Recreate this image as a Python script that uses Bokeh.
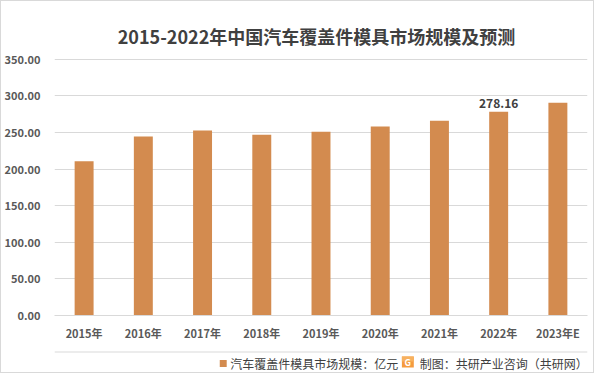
from bokeh.plotting import figure
from bokeh.models import NumeralTickFormatter, ColumnDataSource
from bokeh.layouts import column
from bokeh.core.properties import value
from bokeh.embed import file_html
from bokeh.resources import INLINE

years = ["2015年", "2016年", "2017年", "2018年", "2019年", "2020年", "2021年", "2022年", "2023年E"]
values = [210.5, 244.5, 252.5, 247.0, 251.0, 258.0, 266.0, 278.16, 290.5]
label_years = ["2022年"]
label_values = [278.16]
y_ticks = [0, 50, 100, 150, 200, 250, 300, 350]

title_text = "2015-2022年中国汽车覆盖件模具市场规模及预测"
legend_text = "汽车覆盖件模具市场规模：亿元"
source_text = "制图：共研产业咨询（共研网）"

BAR = "#D38B4F"
TXT = "#595959"
DARK = "#404040"
CJK = "'Noto Sans CJK SC', 'Noto Sans', sans-serif"
W = 592
FL, FR = 49, 586   # frame left / right in pixels (shared by all rows of the column)


def blank(height):
    # frames of plots in a column are aligned, so map data x to figure pixels
    f = figure(width=W, height=height, x_range=(FL, FR), y_range=(height, 0),
               output_backend="svg", toolbar_location=None,
               x_axis_location=None, y_axis_location=None,
               min_border=0, min_border_left=FL, min_border_right=W - FR,
               min_border_top=0, min_border_bottom=0)
    f.grid.visible = False
    f.outline_line_color = None
    return f


# ---------- header (title) ----------
header = blank(48)
header.text(x=[313], y=[34], text=[title_text], text_align="center", text_baseline="middle",
            text_font_size="18px", text_font_style="bold", text_color=DARK,
            text_font=value(CJK))

# ---------- main chart ----------
p = figure(x_range=years, y_range=(0, 351), width=W, height=294,
           output_backend="svg", toolbar_location=None,
           min_border_left=FL, min_border_right=W - FR, min_border_top=9, min_border_bottom=27)
p.x_range.range_padding = 0

src = ColumnDataSource(dict(x=years, top=values))
p.vbar(x="x", top="top", width=0.32, source=src, color=BAR, line_color=None)

lbl_src = ColumnDataSource(dict(x=label_years, y=label_values,
                                t=[f"{v:.2f}" for v in label_values]))
p.text(x="x", y="y", text="t", source=lbl_src, text_align="center", text_baseline="bottom",
       y_offset=-4, text_font_size="12px", text_font_style="bold", text_color=DARK,
       text_font=value(CJK))

p.outline_line_color = None
p.xgrid.grid_line_color = None
p.ygrid.grid_line_color = "#D9D9D9"
p.ygrid.grid_line_width = 1
p.yaxis.ticker = y_ticks
p.yaxis.formatter = NumeralTickFormatter(format="0.00")
p.yaxis.axis_line_color = None
p.yaxis.major_tick_line_color = None
p.yaxis.minor_tick_line_color = None
p.yaxis.major_label_text_font_size = "11px"
p.yaxis.major_label_text_font_style = "bold"
p.yaxis.major_label_text_color = TXT
p.yaxis.major_label_text_font = CJK
p.yaxis.major_label_standoff = 8

p.xaxis.axis_line_color = "#D9D9D9"
p.xaxis.major_tick_line_color = None
p.xaxis.minor_tick_line_color = None
p.xaxis.major_label_text_font_size = "11px"
p.xaxis.major_label_text_font_style = "bold"
p.xaxis.major_label_text_color = TXT
p.xaxis.major_label_text_font = CJK
p.xaxis.major_label_standoff = 3

# ---------- footer (legend + source) ----------
footer = blank(29)
footer.segment(x0=[FL], y0=[8.5], x1=[FR], y1=[8.5], line_color="#D9D9D9", line_width=1)
footer.rect(x=[219], y=[20], width=7, height=7, fill_color=BAR, line_color=None)
footer.text(x=[226], y=[20], text=[legend_text], text_align="left", text_baseline="middle",
            text_font_size="12px", text_color=DARK, text_font=value(CJK))
footer.rect(x=[405], y=[18.5], width=12, height=11, fill_color="#F59B3F", line_color=None)
footer.rect(x=[405], y=[15.5], width=12, height=5, fill_color="#F7B15F", line_color=None)
footer.text(x=[405], y=[18.5], text=["G"], text_align="center", text_baseline="middle",
            text_font_size="9px", text_font_style="bold", text_color="white",
            text_font=value(CJK))
footer.text(x=[417], y=[20], text=[source_text], text_align="left", text_baseline="middle",
            text_font_size="12px", text_color=DARK, text_font=value(CJK))

layout = column(header, p, footer, spacing=0)
layout.styles = {"border": "1px solid #D9D9D9"}
open("out.html", "w").write(file_html(layout, INLINE))
